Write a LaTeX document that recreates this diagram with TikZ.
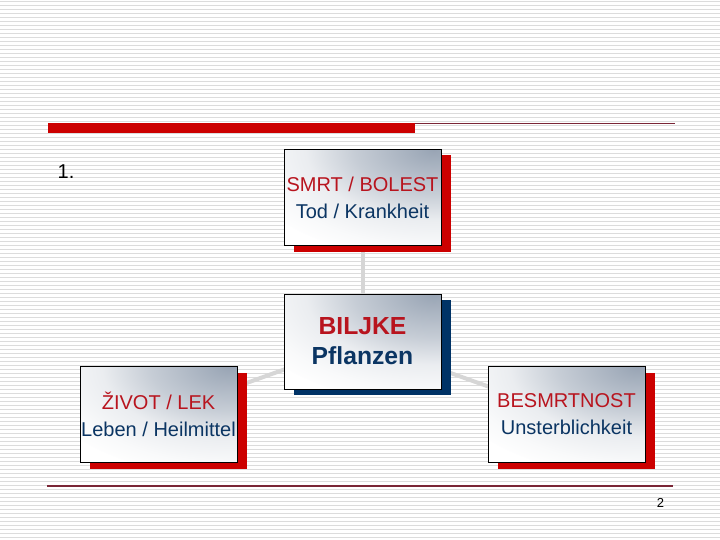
\documentclass[tikz,border=0pt]{standalone}
\usepackage{fontspec}
\setmainfont{Liberation Sans}
\usetikzlibrary{shadows,backgrounds}
\definecolor{barred}{HTML}{CC0000}
\definecolor{txtred}{HTML}{B8141E}
\definecolor{txtnavy}{HTML}{0B3563}
\definecolor{shadenavy}{HTML}{003366}
\definecolor{steel}{HTML}{98A4B4}
\definecolor{stripe}{HTML}{DCDCDC}
\definecolor{conn}{HTML}{D6D6D6}
\definecolor{rule}{HTML}{7A2636}
\pgfdeclareradialshading{boxshade}{\pgfpointorigin}{color(0bp)=(steel); color(10bp)=(steel!55!white); color(16bp)=(steel!20!white); color(22bp)=(steel!6!white); color(26bp)=(white); color(50bp)=(white)}
\tikzset{
  card/.style={draw=black, line width=0.8pt, fill=white,
    path picture={\shade[shading=boxshade] ([xshift=-7pt]path picture bounding box.north east) ellipse [x radius=200pt, y radius=110pt];},
    minimum width=157pt, minimum height=96pt, inner sep=0pt, align=center,
    general shadow={fill=#1, shadow xshift=10pt, shadow yshift=-6pt}},
  card/.default=barred,
  small/.style={font=\fontsize{20}{27}\selectfont},
  big/.style={font=\bfseries\fontsize{24.7}{30}\selectfont},
  link/.style={draw=conn, line width=4pt},
}
\begin{document}
\begin{tikzpicture}[x=1pt,y=-1pt]
\useasboundingbox (0,0) rectangle (720,540);
\begin{scope}[on background layer]
  \fill[white] (0,0) rectangle (720,540);
  \foreach \i in {0,...,134} \draw[stripe, line width=1.4pt] (0,{1.5+4*\i}) -- (720,{1.5+4*\i});
\end{scope}
% rules
\fill[barred] (48,123) rectangle (415,133);
\draw[rule, line width=1pt] (415,123.5) -- (675,123.5);
\draw[rule, line width=1.3pt] (47,486) -- (673,486);
% labels
\node[font=\fontsize{20}{24}\selectfont] (num) at (66,172) {1.};
\node[font=\fontsize{13}{15}\selectfont] (page) at (660.5,502.5) {2};
% boxes
\node[card, small] (smrt) at (362.5,197.5) {\textcolor{txtred}{SMRT / BOLEST}\\\textcolor{txtnavy}{Tod / Krankheit}};
\node[card=shadenavy, big, minimum height=95pt] (biljke) at (362.5,341.5) {\textcolor{txtred}{BILJKE}\\\textcolor{txtnavy}{Pflanzen}};
\node[card, small] (zivot) at (158.5,414.5) {\textcolor{txtred}{ŽIVOT / LEK}\\\textcolor{txtnavy}{Leben / Heilmittel}};
\node[card, small] (besm) at (566.5,414.5) {\textcolor{txtred}{BESMRTNOST}\\\textcolor{txtnavy}{Unsterblichkeit}};
\begin{scope}[on background layer]
  \draw[link] (biljke.center) -- (smrt.center);
  \draw[link] (biljke.center) -- (zivot.center);
  \draw[link] (biljke.center) -- (besm.center);
\end{scope}
\end{tikzpicture}
\end{document}
